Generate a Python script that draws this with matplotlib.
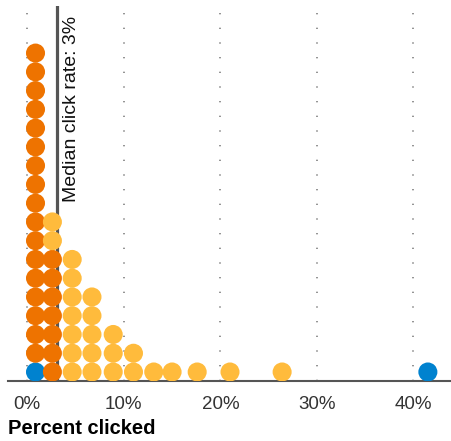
import matplotlib
matplotlib.use("Agg")
import matplotlib.pyplot as plt

# Data: bin centres (percent clicked) and dot counts per group
bin_pct = [0.85, 2.6, 4.65, 6.7, 8.9, 11.0, 13.1, 15.0, 17.6, 21.0, 26.4, 41.5]
blue_counts = [1, 0, 0, 0, 0, 0, 0, 0, 0, 0, 0, 1]
orange_counts = [17, 7, 0, 0, 0, 0, 0, 0, 0, 0, 0, 0]
yellow_counts = [0, 2, 7, 5, 3, 2, 1, 1, 1, 1, 1, 0]
median_pct = 3.05
tick_vals = [0, 10, 20, 30, 40]
tick_labels = ["0%", "10%", "20%", "30%", "40%"]

BLUE = "#0082CF"
ORANGE = "#EE7300"
YELLOW = "#FFBB3C"

plt.rcParams['font.family'] = ['Liberation Sans', 'DejaVu Sans']

W, H = 452, 441
fig = plt.figure(figsize=(W / 100, H / 100), dpi=100)
ax = fig.add_axes([8 / W, 1 - 381 / H, 444 / W, 375 / H])
ax.set_xlim(-2.0, 44.0)
ax.set_ylim(-0.48, 19.51)

xs, ys, cs = [], [], []
for x, b, o, yl in zip(bin_pct, blue_counts, orange_counts, yellow_counts):
    k = 0
    for n, c in ((b, BLUE), (o, ORANGE), (yl, YELLOW)):
        for _ in range(n):
            xs.append(x)
            ys.append(k)
            cs.append(c)
            k += 1

for t in tick_vals:
    ax.axvline(t, color="#808080", lw=1.2, ls=(0, (0.8, 8)), zorder=0)

ax.scatter(xs, ys, s=188, c=cs, linewidths=0, zorder=3)

ax.axvline(median_pct, color="#555555", lw=2.3, zorder=2)
ax.text(median_pct + 0.65, 19.0, "Median click rate: 3%", rotation=90,
        ha="left", va="top", fontsize=14, color="#111111")

for s in ("top", "right", "left"):
    ax.spines[s].set_visible(False)
ax.spines["bottom"].set_color("#555555")
ax.spines["bottom"].set_linewidth(1.5)
ax.set_yticks([])
ax.set_xticks(tick_vals)
ax.set_xticklabels(tick_labels, fontsize=13.5, color="#333333")
ax.tick_params(axis="x", length=0, pad=11)

fig.text(8 / W, 1 - 428 / H, "Percent clicked", fontsize=14.5,
         fontweight="bold", ha="left", va="center", color="#000000")

fig.savefig("out.png", dpi=100)
